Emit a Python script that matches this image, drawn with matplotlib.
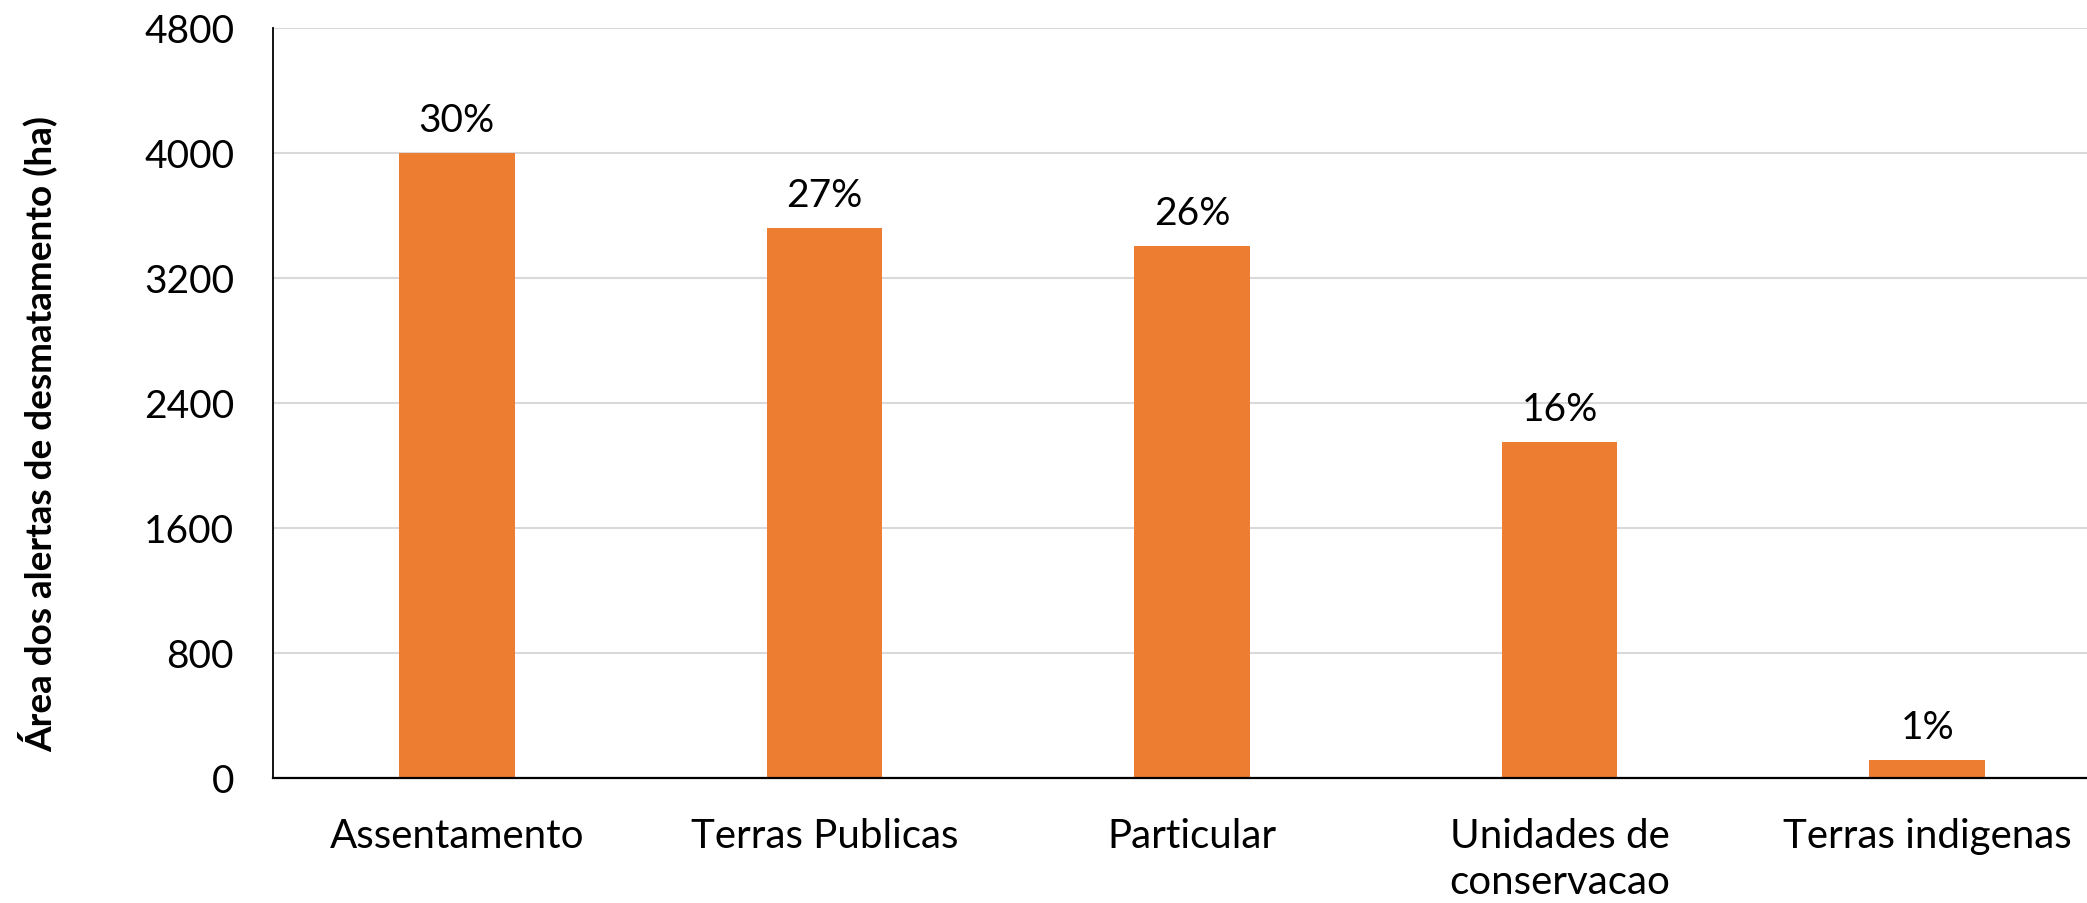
import matplotlib
matplotlib.use("Agg")
import matplotlib.pyplot as plt

categories = ["Assentamento", "Terras Publicas", "Particular", "Unidades de\nconservacao", "Terras indigenas"]
values = [4000, 3520, 3405, 2150, 115]
pct_labels = ["30%", "27%", "26%", "16%", "1%"]
yticks = [0, 800, 1600, 2400, 3200, 4000, 4800]

plt.rcParams['font.family'] = ['Lato', 'DejaVu Sans']

W, H = 2087, 904
fig = plt.figure(figsize=(W / 100, H / 100), dpi=100)
ax = fig.add_axes([273 / W, 1 - 779 / H, (2111 - 273) / W, (779 - 29) / H])

x = list(range(len(categories)))
bars = ax.bar(x, values, width=0.315, color="#ED7D31", zorder=3)

ax.set_xlim(-0.5, len(categories) - 0.5)
ax.set_ylim(0, 4800)
ax.set_yticks(yticks)
ax.set_yticklabels([str(t) for t in yticks], fontsize=28)
ax.set_xticks(x)
ax.set_xticklabels(categories, fontsize=29, linespacing=1.3)
ax.tick_params(axis='y', length=0, pad=28)
ax.tick_params(axis='x', length=0, pad=28)

ax.grid(axis='y', color="#d9d9d9", linewidth=1.5, zorder=0)
ax.set_axisbelow(True)
for s in ['top', 'right']:
    ax.spines[s].set_visible(False)
ax.spines['left'].set_linewidth(1.3)
ax.spines['bottom'].set_linewidth(1.6)
ax.spines['left'].set_zorder(4)
ax.spines['bottom'].set_zorder(4)

for xi, v, lab in zip(x, values, pct_labels):
    ax.annotate(lab, (xi, v), xytext=(0, 16), textcoords='offset points',
                ha='center', va='baseline', fontsize=28)

fig.text(38 / W, 1 - 434 / H, "Área dos alertas de desmatamento (ha)", rotation=90,
         ha='center', va='center', fontsize=26.6, fontweight='bold')

fig.savefig("out.png", dpi=100, facecolor='white')
